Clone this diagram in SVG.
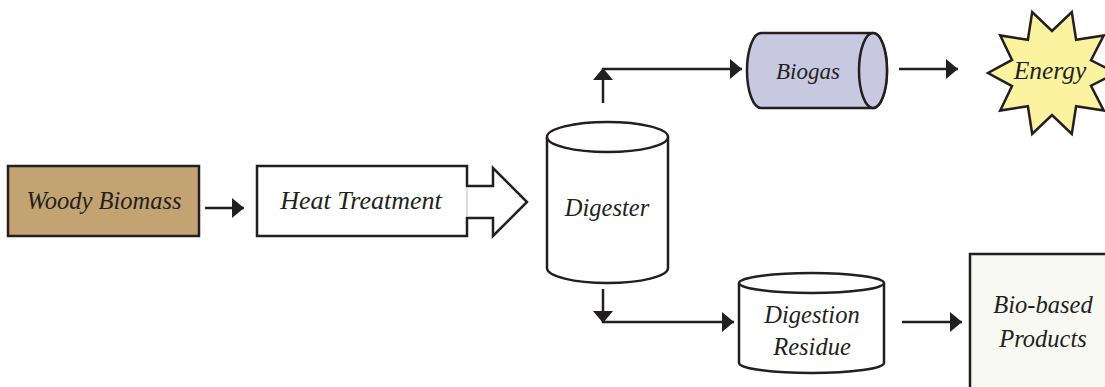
<svg xmlns="http://www.w3.org/2000/svg" width="1105" height="387" viewBox="0 0 1105 387">
<defs>
<style>
.shape{stroke:#231f20;stroke-width:2.5;stroke-linejoin:miter}
.lbl{font-family:"Liberation Serif","Times New Roman",serif;font-style:italic;font-size:24.5px;fill:#231f20;text-anchor:middle}
.conn{stroke:#231f20;stroke-width:2.5;fill:none}
</style>
<marker id="ah" markerUnits="userSpaceOnUse" markerWidth="14" markerHeight="22" refX="12" refY="10" orient="auto">
<path d="M0,0 L12,10 L0,20 Z" fill="#231f20"/>
</marker>
</defs>
<rect width="1105" height="387" fill="#ffffff"/>

<g id="woody-biomass">
<rect class="shape" x="8" y="166" width="191" height="70" fill="#c4a373"/>
<text class="lbl" x="104" y="209">Woody Biomass</text>
</g>

<g id="heat-treatment">
<path class="shape" d="M467,186 L493,186 L493,168 L527,202 L493,236 L493,218 L467,218 L467,236 L257,236 L257,166 L467,166 Z" fill="#ffffff"/>
<line x1="467" y1="187.5" x2="467" y2="216.5" stroke="#bbbbbb" stroke-width="1"/>
<text class="lbl" x="361" y="209" style="font-size:26px">Heat Treatment</text>
</g>

<g id="digester">
<path class="shape" d="M547,137 L547,268 A60.5,15 0 0 0 668,268 L668,137" fill="#ffffff"/>
<ellipse class="shape" cx="607.5" cy="137" rx="60.5" ry="15" fill="#ffffff"/>
<text class="lbl" x="607" y="216">Digester</text>
</g>

<g id="biogas">
<path class="shape" d="M761,33 L873,33 A14,37.5 0 0 1 873,108 L761,108 A14,37.5 0 0 1 761,33 Z" fill="#c8c8e0"/>
<ellipse class="shape" cx="873" cy="70.5" rx="14" ry="37.5" fill="#c8c8e0"/>
<text class="lbl" x="808" y="79" style="font-size:23px">Biogas</text>
</g>

<g id="energy">
<polygon class="shape" fill="#fbf3a0" points="1116,73 1091,60.3 1103.8,35.4 1076.1,39.8 1071.8,12.1 1052,31 1032.2,12.1 1027.9,39.8 1000.2,35.4 1012,59.9 988,73 1012,86.1 1000.2,110.6 1027.9,106.2 1032.2,133.9 1052,115 1071.8,133.9 1076.1,106.2 1103.8,110.6 1091,85.7"/>
<text class="lbl" x="1050" y="79" style="font-size:25.5px">Energy</text>
</g>

<g id="digestion-residue">
<path class="shape" d="M739,283 L739,363 A72.5,10 0 0 0 884,363 L884,283" fill="#ffffff"/>
<ellipse class="shape" cx="811.5" cy="283" rx="72.5" ry="10" fill="#ffffff"/>
<text class="lbl" x="812" y="323">Digestion</text>
<text class="lbl" x="812" y="355">Residue</text>
</g>

<g id="bio-based-products">
<rect class="shape" x="970" y="254" width="200" height="200" fill="#f9f9f4"/>
<text class="lbl" x="1043" y="313">Bio-based</text>
<text class="lbl" x="1043" y="347">Products</text>
</g>

<g id="connectors">
<line class="conn" x1="205" y1="208" x2="244" y2="208" marker-end="url(#ah)"/>
<line class="conn" x1="603" y1="103" x2="603" y2="68" marker-end="url(#ah)"/>
<line class="conn" x1="602" y1="69" x2="742" y2="69" marker-end="url(#ah)"/>
<line class="conn" x1="899" y1="69" x2="958" y2="69" marker-end="url(#ah)"/>
<line class="conn" x1="603" y1="289" x2="603" y2="323" marker-end="url(#ah)"/>
<line class="conn" x1="602" y1="322" x2="734" y2="322" marker-end="url(#ah)"/>
<line class="conn" x1="902" y1="322" x2="962" y2="322" marker-end="url(#ah)"/>
</g>
</svg>
